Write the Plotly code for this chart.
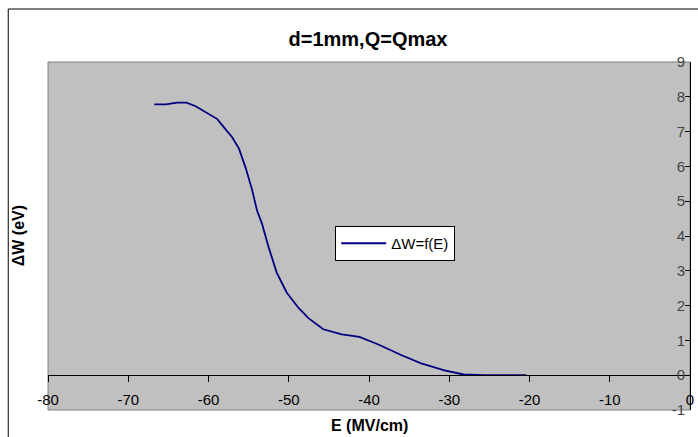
import plotly.graph_objects as go

E_vals = [-66.75, -65.3, -63.9, -62.75, -61.6, -60.35, -58.9, -58.1, -57.05, -56.2,
          -55.4, -54.6, -53.95, -53.33, -52.5, -51.5, -50.24, -48.8, -47.55, -45.7,
          -43.4, -41.2, -38.9, -36.0, -33.5, -30.6, -28.2, -25.7, -20.4]
W_vals = [7.78, 7.78, 7.83, 7.83, 7.73, 7.55, 7.36, 7.13, 6.84, 6.51,
          5.98, 5.36, 4.73, 4.35, 3.67, 2.95, 2.37, 1.94, 1.64, 1.32,
          1.17, 1.10, 0.89, 0.58, 0.34, 0.14, 0.02, 0.0, 0.0]
x_ticks = [-80, -70, -60, -50, -40, -30, -20, -10, 0]
y_ticks = [-1, 0, 1, 2, 3, 4, 5, 6, 7, 8, 9]

FONT = "Liberation Sans, Arial, sans-serif"
W, H = 698, 437
L, R, T, B = 48, 4, 62, 27
pw, ph = W - L - R, H - T - B

fig = go.Figure()
fig.add_trace(go.Scatter(x=E_vals, y=W_vals, mode="lines", name="ΔW=f(E)",
                         line=dict(color="#000080", width=1.8)))

fig.update_layout(
    width=W, height=H,
    margin=dict(l=L, r=R, t=T, b=B),
    paper_bgcolor="white",
    plot_bgcolor="#C0C0C0",
    font=dict(family=FONT, size=15, color="black"),
    title=dict(text="<b>d=1mm,Q=Qmax</b>", xref="container", yref="container",
               x=368 / W, y=1 - 38.5 / H, xanchor="center", yanchor="middle",
               font=dict(size=20, family=FONT, color="black")),
    xaxis=dict(range=[-80, 0], tickvals=x_ticks, ticktext=[str(v) for v in x_ticks],
               showgrid=False, zeroline=False, showline=True, linecolor="black", linewidth=1,
               ticks="outside", ticklen=6, tickcolor="black", ticklabelstandoff=5,
               ticklabeloverflow="allow",
               anchor="free", position=0.1, tickfont=dict(size=15)),
    yaxis=dict(range=[-1, 9], tickvals=y_ticks, ticktext=[str(v) for v in y_ticks],
               side="right", ticklabelposition="inside", showgrid=False, zeroline=False,
               showline=True, linecolor="black", linewidth=1, ticklabeloverflow="allow",
               ticks="inside", ticklen=5, tickcolor="black", tickfont=dict(size=15)),
    legend=dict(x=(337 - L) / pw, y=(H - B - 226) / ph, xanchor="left", yanchor="top",
                bgcolor="white", bordercolor="black", borderwidth=1, itemwidth=45,
                font=dict(size=15, family=FONT)),
    showlegend=True,
)

# plot area frame (gray) and outer chart border
fig.add_shape(type="rect", xref="paper", yref="paper", x0=0, x1=1, y0=0, y1=1,
              line=dict(color="#808080", width=1), layer="below")
fig.add_shape(type="rect", xref="paper", yref="paper",
              x0=(8 - L) / pw, x1=2, y0=-1, y1=(H - B - 9) / ph,
              line=dict(color="black", width=1))

fig.add_annotation(text="<b>ΔW (eV)</b>", xref="paper", yref="paper",
                   x=(18 - L) / pw, y=(H - B - 236) / ph, textangle=-90,
                   showarrow=False, font=dict(size=16, family=FONT),
                   xanchor="center", yanchor="middle")
fig.add_annotation(text="<b>E (MV/cm)</b>", xref="paper", yref="paper",
                   x=(372 - L) / pw, y=(H - B - 425) / ph,
                   showarrow=False, font=dict(size=16, family=FONT),
                   xanchor="center", yanchor="middle")

fig.write_html("out.html", config={"displayModeBar": False},
               post_script="document.body.style.margin='0';")
